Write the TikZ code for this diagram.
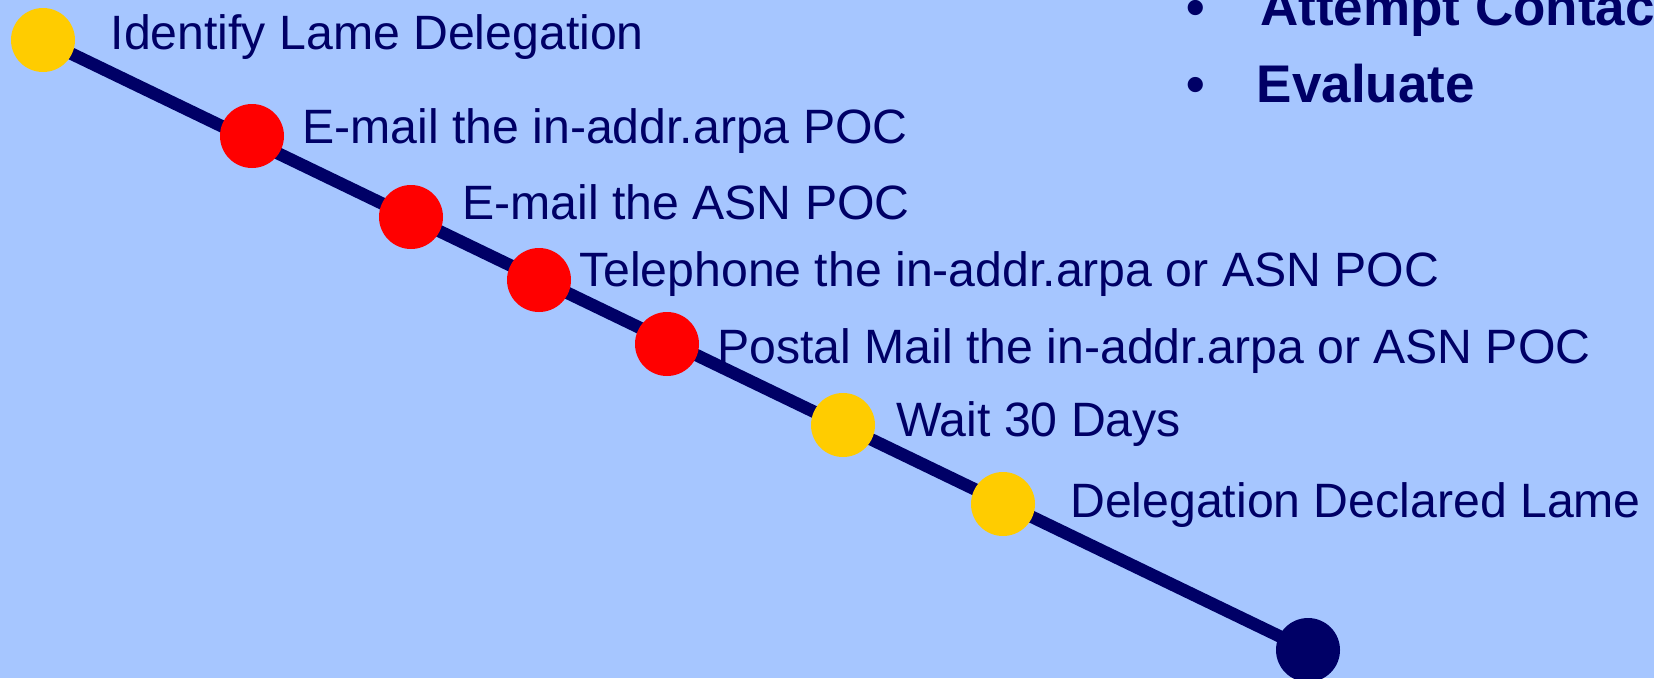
\documentclass[tikz,border=0pt]{standalone}
\usepackage{fontspec}
\setmainfont{Liberation Sans}
\usetikzlibrary{backgrounds}
\definecolor{bgblue}{RGB}{166,198,255}
\definecolor{navy}{RGB}{0,0,102}
\definecolor{dotred}{RGB}{255,0,0}
\definecolor{dotyellow}{RGB}{255,204,0}
\begin{document}
\begin{tikzpicture}[x=1pt,y=-1pt,
  dot/.style={circle,minimum size=64pt,inner sep=0pt,draw=none},
  reddot/.style={dot,fill=dotred},
  yeldot/.style={dot,fill=dotyellow},
  navydot/.style={dot,fill=navy},
  lbl/.style={anchor=base west,inner sep=0pt,text=navy,font=\fontsize{48.2}{56}\selectfont},
  blbl/.style={anchor=base west,inner sep=0pt,text=navy,font=\fontsize{53}{62}\selectfont\bfseries},
  track/.style={draw=navy,line width=12.5pt}]
\useasboundingbox (0,0) rectangle (1654,678);
\clip (0,0) rectangle (1654,678);
% dots
\node[yeldot] (c1) at (43,40) {};
\node[reddot] (c2) at (252,136) {};
\node[reddot] (c3) at (411,217) {};
\node[reddot] (c4) at (539,280) {};
\node[reddot] (c5) at (667,344) {};
\node[yeldot] (c6) at (843,425) {};
\node[yeldot] (c7) at (1003,504) {};
\node[navydot] (c8) at (1308,650) {};
\begin{scope}[on background layer]
  \fill[bgblue] (0,0) rectangle (1654,678);
  \draw[track] (c1.center) -- (c8.center);
\end{scope}
% labels
\node[lbl] (t1) at (110.5,49) {Identify Lame Delegation};
\node[lbl] (t2) at (302,143) {E-mail the in-addr.arpa POC};
\node[lbl] (t3) at (462,219) {E-mail the ASN POC};
\node[lbl] (t4) at (579,286) {Telephone the in-addr.arpa or ASN POC};
\node[lbl] (t5) at (717,363) {Postal Mail the in-addr.arpa or ASN POC};
\node[lbl] (t6) at (896,436) {Wait 30 Days};
\node[lbl] (t7) at (1070,517) {Delegation Declared Lame};
% bullets
\node[blbl] (b1) at (1186,25) {•};
\node[blbl] (a1) at (1260,25) {Attempt Contac};
\node[blbl] (b2) at (1186,102) {•};
\node[blbl] (a2) at (1256.5,102) {Evaluate};
\end{tikzpicture}
\end{document}
